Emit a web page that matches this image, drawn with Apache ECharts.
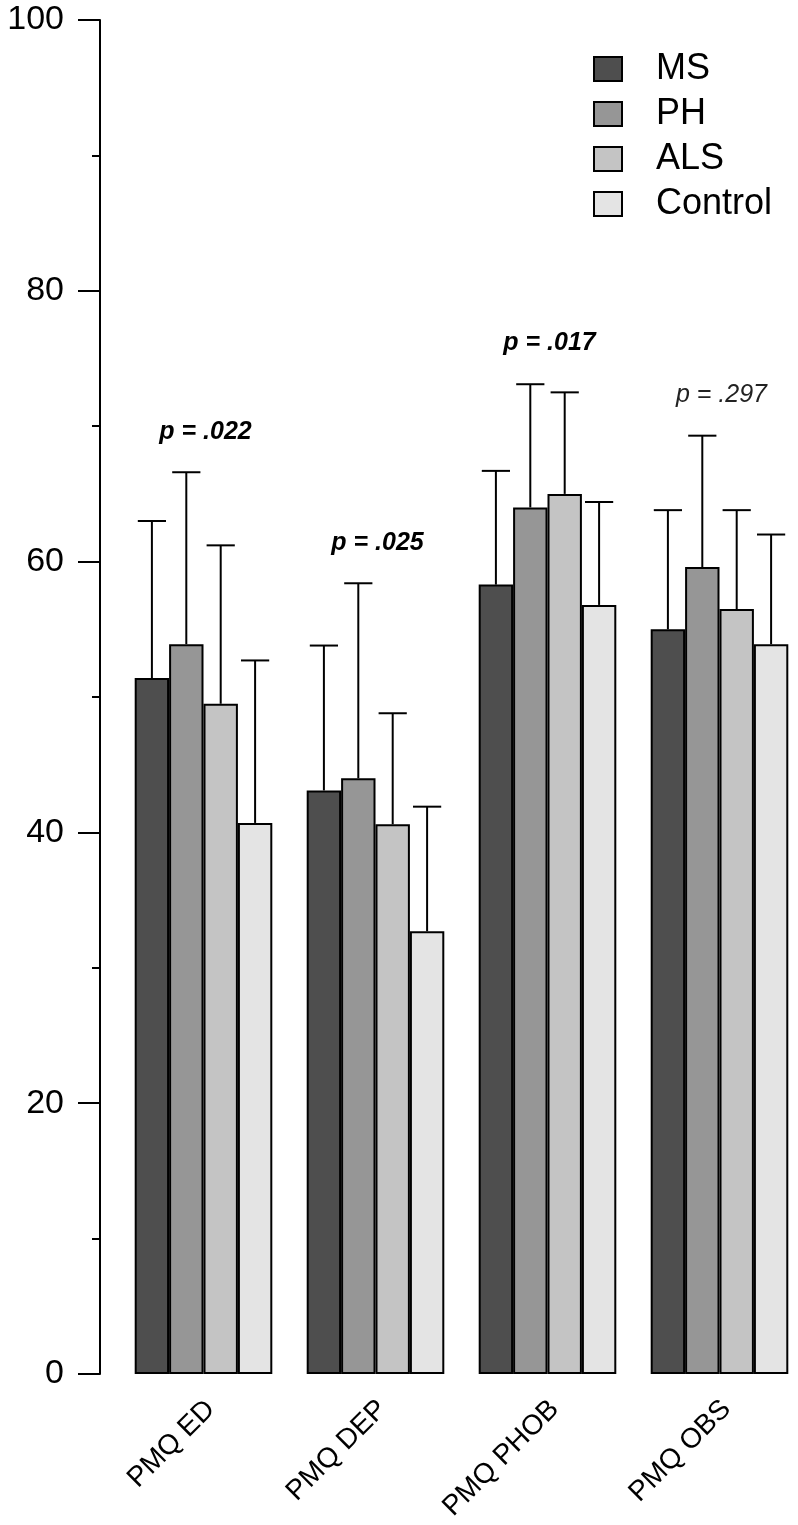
<!DOCTYPE html>
<html>
<head>
<meta charset="utf-8">
<script src="https://cdn.jsdelivr.net/npm/echarts@6/dist/echarts.min.js"></script>
<style>html,body{margin:0;padding:0;background:#fff}#c{width:798px;height:1525px}</style>
</head>
<body>
<div id="c"></div>
<script>
const categories = ['PMQ ED', 'PMQ DEP', 'PMQ PHOB', 'PMQ OBS'];
const groups = ['MS', 'PH', 'ALS', 'Control'];
const msMean = [51.4, 43.1, 58.3, 55.0];
const phMean = [53.9, 44.0, 64.0, 59.6];
const alsMean = [49.5, 40.6, 65.0, 56.5];
const controlMean = [40.7, 32.7, 56.8, 53.9];
const msSD = [11.6, 10.7, 8.4, 8.8];
const phSD = [12.7, 14.4, 9.1, 9.7];
const alsSD = [11.7, 8.2, 7.5, 7.3];
const controlSD = [12.0, 9.2, 7.6, 8.1];
const pLabels = ['p = .022', 'p = .025', 'p = .017', 'p = .297'];
const pSignificant = [true, true, true, false];
const yTicks = [0, 20, 40, 60, 80, 100];

const means = [msMean, phMean, alsMean, controlMean];
const sds = [msSD, phSD, alsSD, controlSD];
const colors = ['#4e4e4e', '#969696', '#c4c4c4', '#e4e4e4'];
const FONT = '"Liberation Sans", Arial, sans-serif';
const catGapRatio = 0.2;
const nGroups = groups.length;

const chart = echarts.init(document.getElementById('c'));

const barSeries = groups.map((g, gi) => ({
  name: g,
  type: 'bar',
  data: means[gi],
  barGap: 0,
  barCategoryGap: (catGapRatio * 100) + '%',
  itemStyle: { color: colors[gi], borderColor: '#000', borderWidth: 2 },
  z: 2
}));

const errData = [];
groups.forEach((g, gi) => {
  categories.forEach((c, ci) => {
    errData.push([ci, means[gi][ci], means[gi][ci] + sds[gi][ci], gi]);
  });
});

const errSeries = {
  type: 'custom',
  data: errData,
  z: 3,
  silent: true,
  renderItem: function (params, api) {
    const ci = api.value(0), gi = api.value(3);
    const base = api.coord([ci, api.value(1)]);
    const top = api.coord([ci, api.value(2)]);
    const bandW = api.size([1, 0])[0];
    const barW = bandW * (1 - catGapRatio) / nGroups;
    const x = base[0] + (gi - (nGroups - 1) / 2) * barW;
    const capHalf = barW * 0.41;
    const style = { stroke: '#000', lineWidth: 2 };
    return {
      type: 'group',
      children: [
        { type: 'line', shape: { x1: x, y1: base[1], x2: x, y2: top[1] }, style: style },
        { type: 'line', shape: { x1: x - capHalf, y1: top[1], x2: x + capHalf, y2: top[1] }, style: style }
      ]
    };
  },
  encode: { x: 0, y: 2 }
};

const pData = categories.map((c, ci) => {
  let m = 0;
  for (let gi = 0; gi < nGroups; gi++) m = Math.max(m, means[gi][ci] + sds[gi][ci]);
  return [ci, m + 3, ci];
});

const pSeries = {
  type: 'custom',
  data: pData,
  z: 4,
  silent: true,
  renderItem: function (params, api) {
    const ci = api.value(2);
    const p = api.coord([api.value(0), api.value(1)]);
    return {
      type: 'text',
      x: p[0] + 2, y: p[1],
      style: {
        text: pLabels[ci],
        fill: pSignificant[ci] ? '#000' : '#222',
        font: (pSignificant[ci] ? 'italic bold ' : 'italic ') + '25px ' + FONT,
        textAlign: 'center',
        textVerticalAlign: 'middle'
      }
    };
  },
  encode: { x: 0, y: 1 }
};

chart.setOption({
  animation: false,
  backgroundColor: '#fff',
  grid: { left: 117.5, top: 20, width: 688, bottom: 151, containLabel: false, outerBoundsMode: 'none' },
  legend: {
    data: groups,
    orient: 'vertical',
    left: 588,
    top: 46,
    itemWidth: 28,
    itemHeight: 24,
    itemGap: 9,
    icon: 'rect',
    textStyle: { fontFamily: FONT, fontSize: 36, color: '#000', padding: [0, 0, 0, 29] },
    itemStyle: { borderColor: '#000', borderWidth: 2 }
  },
  xAxis: {
    type: 'category',
    data: categories,
    axisLine: { show: false },
    axisTick: { show: false },
    axisLabel: { rotate: 45, margin: 38, fontFamily: FONT, fontSize: 28, color: '#000', interval: 0, padding: [0, -10, 0, 0] }
  },
  yAxis: {
    type: 'value',
    min: yTicks[0],
    max: yTicks[yTicks.length - 1],
    interval: yTicks[1] - yTicks[0],
    offset: 17.5,
    axisLine: { show: true, lineStyle: { color: '#000', width: 2 } },
    axisTick: { show: true, length: 22, lineStyle: { color: '#000', width: 2 } },
    minorTick: { show: true, splitNumber: 2, length: 8, lineStyle: { color: '#000', width: 2 } },
    splitLine: { show: false },
    axisLabel: { margin: 36, fontFamily: FONT, fontSize: 34, color: '#000' }
  },
  series: barSeries.concat([errSeries, pSeries])
});
</script>
</body>
</html>
